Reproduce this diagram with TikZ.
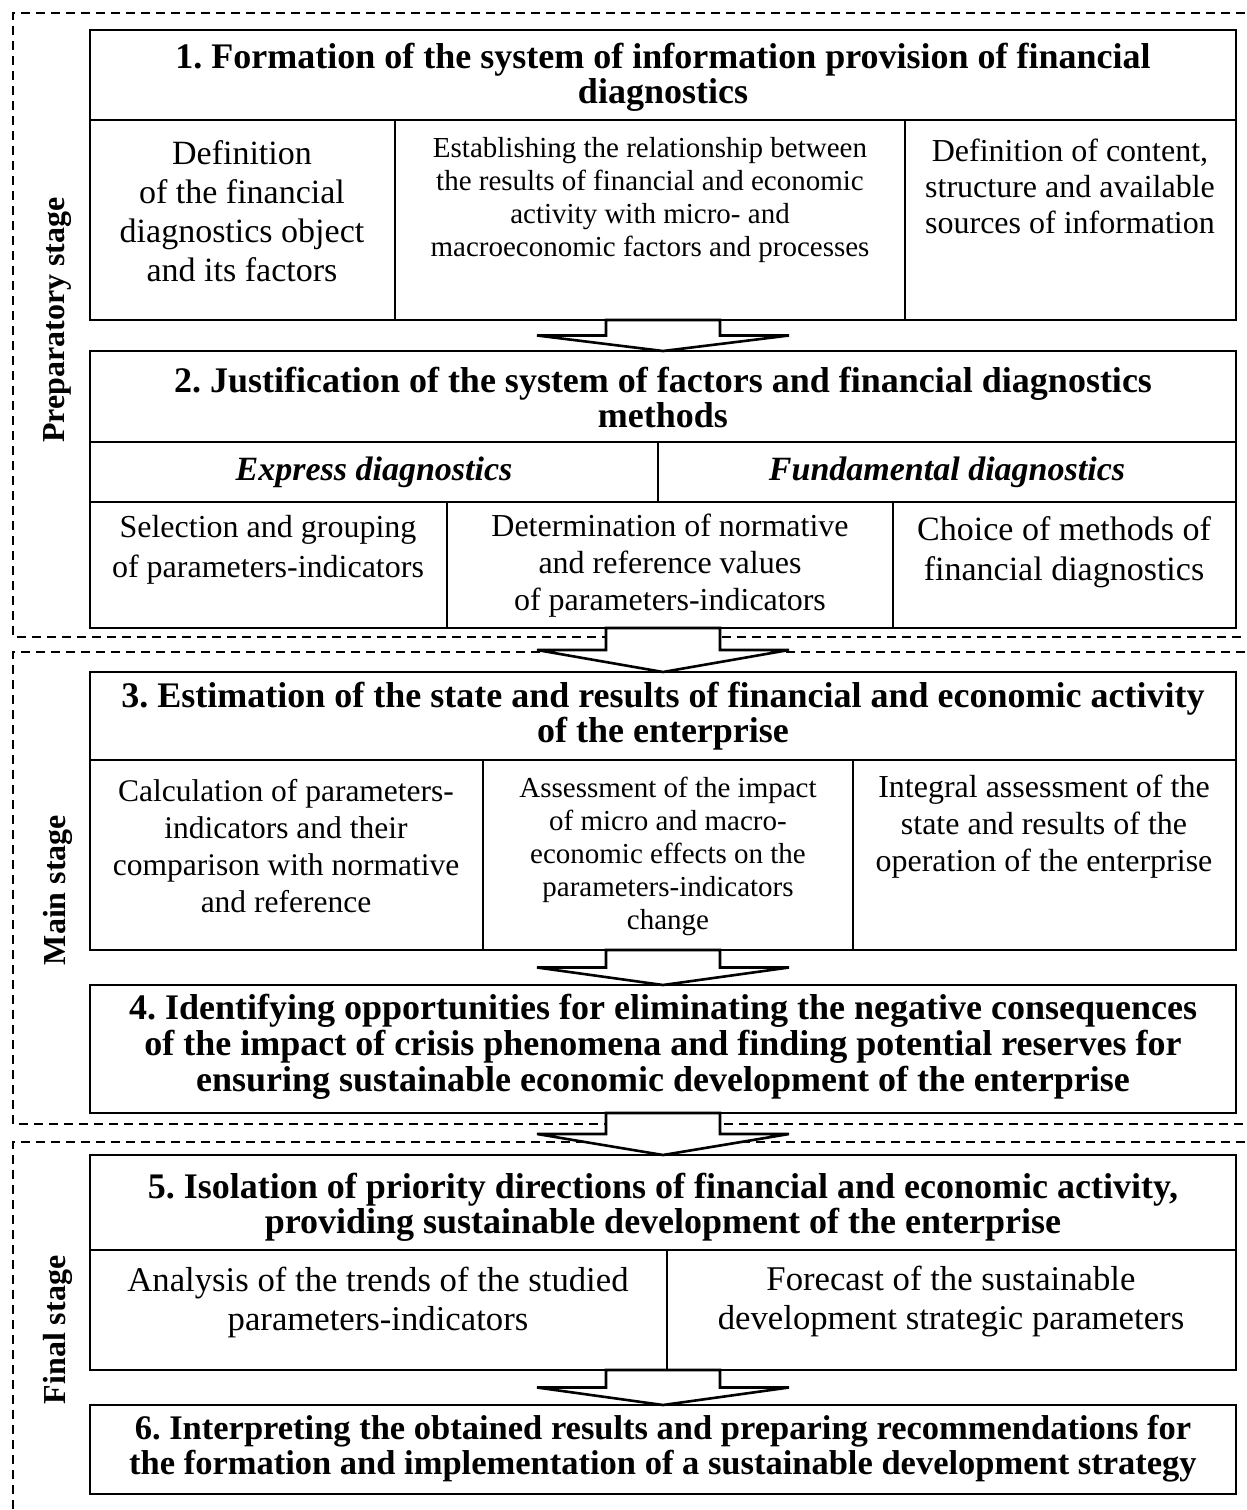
\documentclass[tikz,border=0pt]{standalone}
\usepackage{fontspec}
\setmainfont{Liberation Serif}
\usetikzlibrary{calc}
\frenchspacing
\tikzset{
  frame/.style={draw, line width=1.3pt, outer sep=0pt, inner sep=0pt, anchor=north west},
  rule/.style={line width=1.3pt},
  stagebox/.style={draw, dash pattern=on 9pt off 6pt, line width=2.3pt},
  barrow/.style={draw, fill=white, line width=2.6pt, line join=miter},
  ttl/.style={align=center, inner sep=0pt, font=\fontsize{36}{35}\selectfont\bfseries},
  txt/.style={align=center, inner sep=0pt, font=\fontsize{32}{38}\selectfont},
  txts/.style={align=center, inner sep=0pt, font=\fontsize{29}{33}\selectfont},
  hdr/.style={align=center, inner sep=0pt, font=\fontsize{34}{38}\selectfont\bfseries\itshape},
  stg/.style={rotate=90, inner sep=0pt, font=\fontsize{32}{36}\selectfont\bfseries},
}
\newcommand\blockarrow[2]{%
  \draw[barrow] ($(#1.south)+(-57,0)$) -- ($(#1.south)+(57,0)$)
    -- ($(#1.south)!0.5!(#2.north)+(57,0)$) -- ($(#1.south)!0.5!(#2.north)+(126,0)$)
    -- (#2.north) -- ($(#1.south)!0.5!(#2.north)+(-126,0)$)
    -- ($(#1.south)!0.5!(#2.north)+(-57,0)$) -- cycle;}
\begin{document}
\begin{tikzpicture}[x=1pt,y=-1pt]
\clip (0,0) rectangle (1247,1510);
\fill[white] (0,0) rectangle (1247,1510);
% stage frames
\draw[stagebox] (1260,13) -- (13,13) -- (13,637) -- (1260,637);
\draw[stagebox] (1260,652) -- (13,652) -- (13,1124) -- (1260,1124);
\draw[stagebox] (1260,1142) -- (13,1142) -- (13,1530);
\node[stg] (s1) at (58,320) {Preparatory stage};
\node[stg] (s2) at (58,890) {Main stage};
\node[stg] (s3) at (58,1330) {Final stage};
% box 1
\node[frame, minimum width=1146pt, minimum height=290pt] (b1) at (90,30) {};
\draw[rule] (90,120) -- (1236,120) (395,120) -- (395,320) (905,120) -- (905,320);
\node[ttl] (t1) at (663,77) {1. Formation of the system of information provision of financial\\diagnostics};
\node[align=center, inner sep=0pt, font=\fontsize{34}{39}\selectfont] (c1a) at (242,211) {Definition\\of the financial\\diagnostics object\\and its factors};
\node[txts] (c1b) at (650,200) {Establishing the relationship between\\the results of financial and economic\\activity with micro- and\\macroeconomic factors and processes};
\node[align=center, inner sep=0pt, font=\fontsize{32}{36}\selectfont] (c1c) at (1070,186) {Definition of content,\\structure and available\\sources of information};
% box 2
\node[frame, minimum width=1146pt, minimum height=277pt] (b2) at (90,351) {};
\draw[rule] (90,442) -- (1236,442) (90,502) -- (1236,502) (658,442) -- (658,502)
  (447,502) -- (447,628) (893,502) -- (893,628);
\node[ttl] (t2) at (663,397) {2. Justification of the system of factors and financial diagnostics\\methods};
\node[hdr] (h2a) at (374,472) {Express diagnostics};
\node[hdr] (h2b) at (947,472) {Fundamental diagnostics};
\node[align=center, inner sep=0pt, font=\fontsize{32}{40}\selectfont] (c2a) at (268,550) {Selection and grouping\\of parameters-indicators};
\node[align=center, inner sep=0pt, font=\fontsize{32}{37}\selectfont] (c2b) at (670,566) {Determination of normative\\and reference values\\of parameters-indicators};
\node[align=center, inner sep=0pt, font=\fontsize{34}{40}\selectfont] (c2c) at (1064,552) {Choice of methods of\\financial diagnostics};
% box 3
\node[frame, minimum width=1146pt, minimum height=278pt] (b3) at (90,672) {};
\draw[rule] (90,760) -- (1236,760) (483,760) -- (483,950) (853,760) -- (853,950);
\node[ttl] (t3) at (663,716) {3. Estimation of the state and results of financial and economic activity\\of the enterprise};
\node[align=center, inner sep=0pt, font=\fontsize{31.5}{37}\selectfont] (c3a) at (286,846) {Calculation of parameters-\\indicators and their\\comparison with normative\\and reference};
\node[txts] (c3b) at (668,856) {Assessment of the impact\\of micro and macro-\\economic effects on the\\parameters-indicators\\change};
\node[align=center, inner sep=0pt, font=\fontsize{32}{37}\selectfont] (c3c) at (1044,827) {Integral assessment of the\\state and results of the\\operation of the enterprise};
% box 4
\node[ttl, font=\fontsize{36}{36}\selectfont\bfseries] (t4) at (663,1047) {4. Identifying opportunities for eliminating the negative consequences\\of the impact of crisis phenomena and finding potential reserves for\\ensuring sustainable economic development of the enterprise};
\node[frame, minimum width=1146pt, minimum height=128pt] (b4) at (90,985) {};
% box 5
\node[frame, minimum width=1146pt, minimum height=215pt] (b5) at (90,1155) {};
\draw[rule] (90,1250) -- (1236,1250) (667,1250) -- (667,1370);
\node[ttl] (t5) at (663,1207) {5. Isolation of priority directions of financial and economic activity,\\providing sustainable development of the enterprise};
\node[align=center, inner sep=0pt, font=\fontsize{34.7}{39}\selectfont] (c5a) at (378,1302) {Analysis of the trends of the studied\\parameters-indicators};
\node[align=center, inner sep=0pt, font=\fontsize{34.7}{39}\selectfont] (c5b) at (951,1302) {Forecast of the sustainable\\development strategic parameters};
% box 6
\node[frame, minimum width=1146pt, minimum height=89pt] (b6) at (90,1405) {};
\node[ttl, font=\fontsize{34.5}{35}\selectfont\bfseries] (t6) at (663,1449) {6. Interpreting the obtained results and preparing recommendations for\\the formation and implementation of a sustainable development strategy};
% arrows
\blockarrow{b1}{b2}
\blockarrow{b2}{b3}
\blockarrow{b3}{b4}
\blockarrow{b4}{b5}
\blockarrow{b5}{b6}
\end{tikzpicture}
\end{document}
